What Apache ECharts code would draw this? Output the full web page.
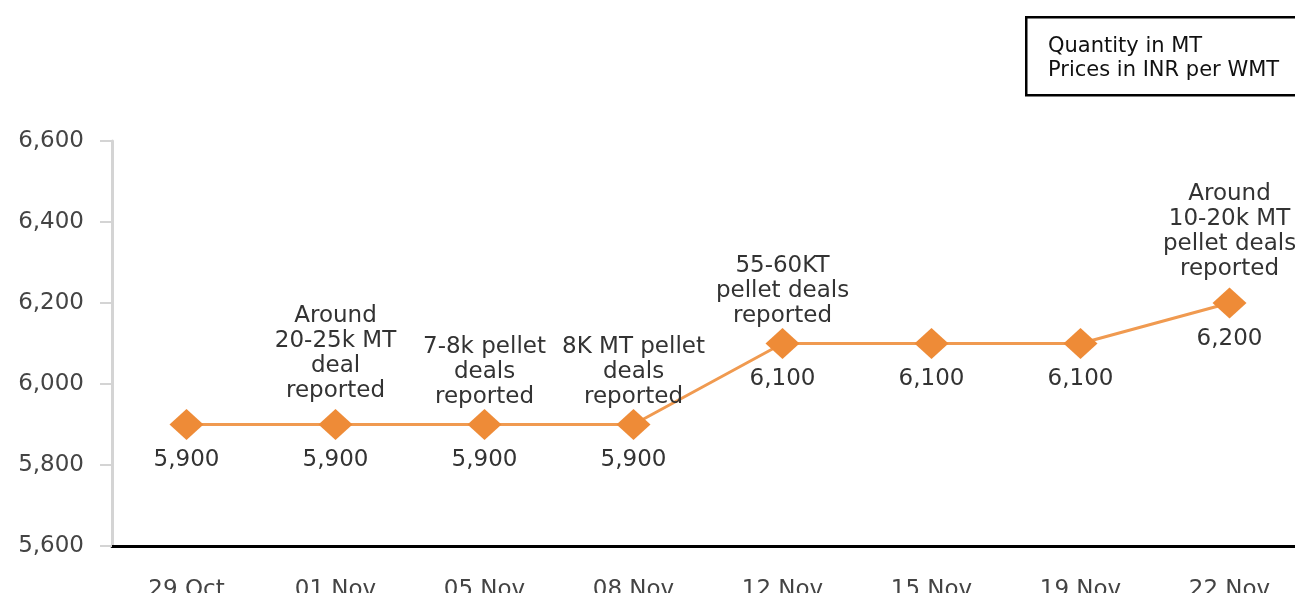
<!DOCTYPE html>
<html>
<head>
<meta charset="utf-8">
<script src="https://cdn.jsdelivr.net/npm/echarts@6/dist/echarts.min.js"></script>
<style>html,body{margin:0;padding:0;background:#fff;}#c{width:1295px;height:593px;}</style>
</head>
<body>
<div id="c"></div>
<script>
const categories = ["29 Oct", "01 Nov", "05 Nov", "08 Nov", "12 Nov", "15 Nov", "19 Nov", "22 Nov"];
const prices = [5900, 5900, 5900, 5900, 6100, 6100, 6100, 6200];
const notes = ["", "Around\n20-25k MT\ndeal\nreported", "7-8k pellet\ndeals\nreported", "8K MT pellet\ndeals\nreported", "55-60KT\npellet deals\nreported", "", "", "Around\n10-20k MT\npellet deals\nreported"];
const legendLines = ["Quantity in MT", "Prices in INR per WMT"];
const yTicks = { min: 5600, max: 6600, interval: 200 };

const FONT = "DejaVu Sans";
const FS = 23;
const noteData = prices.map((v, i) => ({
  value: v,
  label: { distance: 6 * notes[i].split('\n').length - 4 }
}));

const chart = echarts.init(document.getElementById('c'));
chart.setOption({
  animation: false,
  backgroundColor: '#fff',
  grid: { left: 112, top: 141, width: 1192, height: 405, containLabel: false, outerBoundsMode: 'none' },
  xAxis: {
    type: 'category',
    data: categories,
    boundaryGap: true,
    axisLine: { lineStyle: { color: '#000', width: 3 } },
    axisTick: { alignWithLabel: true, length: 11, lineStyle: { color: '#555', width: 2 } },
    axisLabel: { color: '#444', fontFamily: FONT, fontSize: FS, margin: 33 },
    splitLine: { show: false }
  },
  yAxis: {
    type: 'value',
    min: yTicks.min, max: yTicks.max, interval: yTicks.interval,
    axisLine: { show: true, lineStyle: { color: '#d4d4d4', width: 3 } },
    axisTick: { show: true, length: 12, lineStyle: { color: '#d4d4d4', width: 2 } },
    axisLabel: { color: '#444', fontFamily: FONT, fontSize: FS, margin: 28,
      formatter: v => v.toLocaleString('en-US') },
    splitLine: { show: false }
  },
  series: [
    {
      type: 'line',
      data: prices,
      symbol: 'diamond',
      symbolSize: [34, 31],
      itemStyle: { color: '#EE8B37' },
      lineStyle: { color: '#F09A50', width: 3 },
      label: { show: true, position: 'bottom', distance: 9, color: '#333', fontFamily: FONT, fontSize: FS,
        formatter: p => p.value.toLocaleString('en-US') },
      z: 3
    },
    {
      type: 'line',
      data: noteData,
      symbol: 'circle',
      symbolSize: 2,
      showSymbol: true,
      itemStyle: { color: 'rgba(0,0,0,0)' },
      lineStyle: { opacity: 0 },
      silent: true,
      label: { show: true, position: 'top', color: '#333', fontFamily: FONT, fontSize: FS, lineHeight: 25,
        formatter: p => notes[p.dataIndex] },
      z: 4
    }
  ],
  graphic: [
    { type: 'rect', left: 1025, top: 16, shape: { width: 290, height: 78 },
      style: { fill: '#fff', stroke: '#000', lineWidth: 2.5 } },
    { type: 'text', left: 1048, top: 35, style: { text: legendLines.join('\n'), fill: '#111',
      font: '21px "DejaVu Sans"', lineHeight: 24 } }
  ]
});
</script>
</body>
</html>
